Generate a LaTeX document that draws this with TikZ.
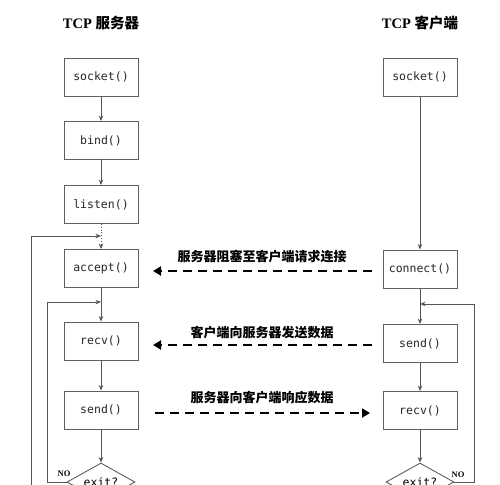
\documentclass[tikz,border=0pt]{standalone}
\usepackage{fontspec}
\setmainfont{Liberation Serif}
\setmonofont{DejaVu Sans Mono}
\newfontfamily\cjk{Noto Sans CJK SC}
\usetikzlibrary{shapes.geometric,arrows.meta}
\definecolor{linegray}{RGB}{85,85,85}
\definecolor{boxgray}{RGB}{95,95,95}
\tikzset{
  fnbox/.style={draw=boxgray, line width=0.9pt, minimum width=74pt, minimum height=38pt, inner sep=0pt, font=\ttfamily\fontsize{11.5}{13}\selectfont, text=black!85},
  decide/.style={diamond, draw=boxgray, line width=0.9pt, minimum width=68pt, minimum height=38pt, inner sep=0pt, aspect=1.8, font=\ttfamily\fontsize{11.5}{13}\selectfont},
  flow/.style={draw=linegray, line width=0.8pt, -{Stealth[length=5.5pt,width=4.5pt]}},
  msg/.style={draw=black, line width=2.6pt, dash pattern=on 9pt off 6pt, -{Triangle[length=8pt,width=9pt]}},
  msglabel/.style={font=\cjk\bfseries\fontsize{13}{15}\selectfont},
  title/.style={font=\bfseries\fontsize{14.5}{16}\selectfont},
  nolabel/.style={font=\bfseries\fontsize{8.5}{10}\selectfont, inner sep=0pt}
}
\begin{document}
\begin{tikzpicture}[x=1pt,y=-1pt]
\useasboundingbox (0,0) rectangle (500,484);
\clip (0,0) rectangle (500,484);
% titles
\node[title] (t1) at (101,23) {TCP {\cjk 服务器}};
\node[title] (t2) at (420,23) {TCP {\cjk 客户端}};
% server column
\node[fnbox] (s1) at (101,77) {socket()};
\node[fnbox] (s2) at (101,140.5) {bind()};
\node[fnbox] (s3) at (101,204.5) {listen()};
\node[fnbox] (s4) at (101,268.5) {accept()};
\node[fnbox] (s5) at (101,341) {recv()};
\node[fnbox] (s6) at (101,410) {send()};
\node[decide] (sd) at (101,482) {exit?};
% client column
\node[fnbox] (c1) at (420,77) {socket()};
\node[fnbox] (c2) at (420,269) {connect()};
\node[fnbox] (c3) at (420,343.5) {send()};
\node[fnbox] (c4) at (420,410.5) {recv()};
\node[decide] (cd) at (420,482) {exit?};
% server flow
\draw[flow] (s1) -- (s2);
\draw[flow] (s2) -- (s3);
\draw[flow, dotted] (s3) -- (s4);
\draw[flow] (s4) -- (s5);
\draw[flow] (s5) -- (s6);
\draw[flow] (s6) -- (sd);
\coordinate (j0) at (101,236);
\coordinate (j1) at (101,302);
\coordinate (o1) at (31,520);
\draw[flow] (o1) |- (j0);
\draw[flow] (sd.west) -- (47,482) |- (j1);
\node[nolabel] (no1) at (64,474) {NO};
% client flow
\draw[flow] (c1) -- (c2);
\draw[flow] (c2) -- (c3);
\draw[flow] (c3) -- (c4);
\draw[flow] (c4) -- (cd);
\coordinate (j2) at (420,304);
\draw[flow] (cd.east) -- (474,482) |- (j2);
\node[nolabel] (no2) at (458,475) {NO};
% messages
\coordinate (m1a) at (372,271); \coordinate (m1b) at (153,271);
\coordinate (m2a) at (372,345); \coordinate (m2b) at (153,345);
\coordinate (m3a) at (155,413); \coordinate (m3b) at (370,413);
\draw[msg] (m1a) -- (m1b);
\draw[msg] (m2a) -- (m2b);
\draw[msg] (m3a) -- (m3b);
\node[msglabel] (l1) at (262,257) {服务器阻塞至客户端请求连接};
\node[msglabel] (l2) at (262,333) {客户端向服务器发送数据};
\node[msglabel] (l3) at (262,398) {服务器向客户端响应数据};
\end{tikzpicture}
\end{document}
